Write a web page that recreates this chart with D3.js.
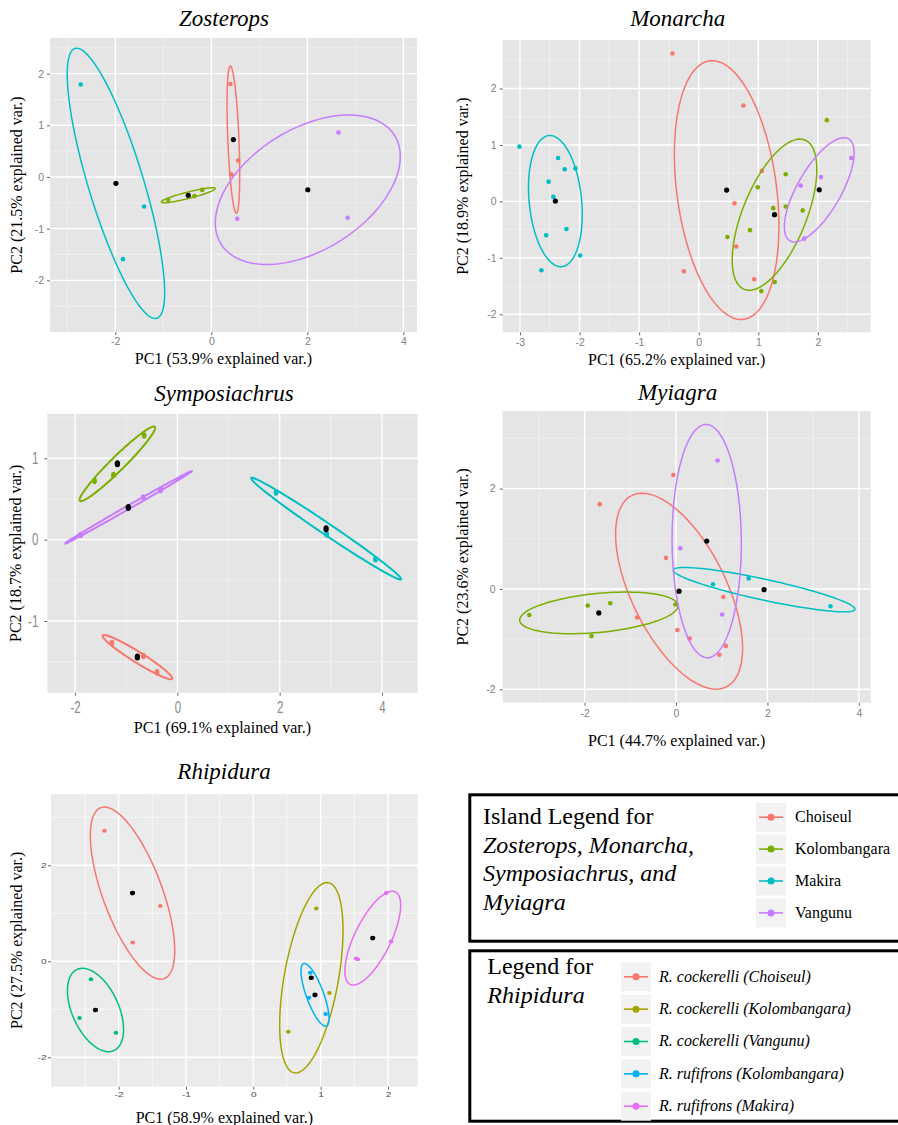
<!DOCTYPE html>
<html>
<head>
<meta charset="utf-8">
<script src="https://cdn.jsdelivr.net/npm/d3@7"></script>
<style>
  body { margin: 0; background: #fff; }
  svg { display: block; }
</style>
</head>
<body>
<div id="chart"></div>
<script>
// group names and colours
const islands = ["Choiseul", "Kolombangara", "Makira", "Vangunu"];
const islandColors = ["#F8766D", "#7CAE00", "#00BFC4", "#C77CFF"];
const rhipiduraGroups = [
  "R. cockerelli (Choiseul)", "R. cockerelli (Kolombangara)", "R. cockerelli (Vangunu)",
  "R. rufifrons (Kolombangara)", "R. rufifrons (Makira)"
];
const rhipiduraColors = ["#F8766D", "#A3A500", "#00BF7D", "#00B0F6", "#E76BF3"];

// PCA scores: [group, PC1, PC2]
const zosterops = [
  ["Choiseul", 0.40, 1.80], ["Choiseul", 0.56, 0.32], ["Choiseul", 0.42, 0.05],
  ["Kolombangara", -0.90, -0.44], ["Kolombangara", -0.35, -0.37], ["Kolombangara", -0.19, -0.25],
  ["Makira", -2.72, 1.79], ["Makira", -1.40, -0.57], ["Makira", -1.84, -1.59],
  ["Vangunu", 2.65, 0.86], ["Vangunu", 0.54, -0.81], ["Vangunu", 2.84, -0.79]
];
const monarcha = [
  ["Choiseul", -0.44, 2.62], ["Choiseul", 0.75, 1.70], ["Choiseul", 1.06, 0.54],
  ["Choiseul", 0.60, -0.035], ["Choiseul", 0.63, -0.80], ["Choiseul", -0.25, -1.24],
  ["Choiseul", 0.93, -1.38],
  ["Kolombangara", 2.15, 1.44], ["Kolombangara", 1.46, 0.48], ["Kolombangara", 0.99, 0.25],
  ["Kolombangara", 1.25, -0.12], ["Kolombangara", 1.46, -0.09], ["Kolombangara", 1.745, -0.16],
  ["Kolombangara", 0.86, -0.51], ["Kolombangara", 0.48, -0.63], ["Kolombangara", 1.275, -1.43],
  ["Kolombangara", 1.05, -1.59],
  ["Makira", -3.01, 0.97], ["Makira", -2.36, 0.77], ["Makira", -2.25, 0.57],
  ["Makira", -2.07, 0.585], ["Makira", -2.52, 0.35], ["Makira", -2.44, 0.08],
  ["Makira", -2.22, -0.49], ["Makira", -2.56, -0.60], ["Makira", -1.99, -0.96],
  ["Makira", -2.64, -1.22],
  ["Vangunu", 2.56, 0.77], ["Vangunu", 2.05, 0.43], ["Vangunu", 1.71, 0.28], ["Vangunu", 1.77, -0.66]
];
const symposiachrus = [
  ["Choiseul", -1.28, -1.27], ["Choiseul", -0.665, -1.43], ["Choiseul", -0.40, -1.63],
  ["Kolombangara", -0.65, 1.28], ["Kolombangara", -1.25, 0.795], ["Kolombangara", -1.62, 0.72],
  ["Makira", 1.93, 0.58], ["Makira", 2.92, 0.066], ["Makira", 3.875, -0.24],
  ["Vangunu", -1.89, 0.058], ["Vangunu", -0.665, 0.52], ["Vangunu", -0.325, 0.61]
];
const myiagra = [
  ["Choiseul", -0.06, 2.27], ["Choiseul", -1.67, 1.69], ["Choiseul", -0.22, 0.62],
  ["Choiseul", 1.035, -0.16], ["Choiseul", -0.85, -0.57], ["Choiseul", 0.03, -0.82],
  ["Choiseul", 0.30, -0.99], ["Choiseul", 1.09, -1.135], ["Choiseul", 0.95, -1.31],
  ["Kolombangara", -3.21, -0.52], ["Kolombangara", -1.93, -0.33], ["Kolombangara", -1.44, -0.285],
  ["Kolombangara", -1.85, -0.94], ["Kolombangara", -0.015, -0.31],
  ["Makira", 0.81, 0.093], ["Makira", 1.59, 0.21], ["Makira", 3.38, -0.345],
  ["Vangunu", 0.91, 2.56], ["Vangunu", 0.095, 0.81], ["Vangunu", 1.01, -0.51]
];
const rhipidura = [
  ["R. cockerelli (Choiseul)", -2.21, 2.72], ["R. cockerelli (Choiseul)", -1.38, 1.15],
  ["R. cockerelli (Choiseul)", -1.79, 0.39],
  ["R. cockerelli (Kolombangara)", 0.935, 1.10], ["R. cockerelli (Kolombangara)", 1.13, -0.66],
  ["R. cockerelli (Kolombangara)", 0.52, -1.47],
  ["R. cockerelli (Vangunu)", -2.41, -0.375], ["R. cockerelli (Vangunu)", -2.58, -1.18],
  ["R. cockerelli (Vangunu)", -2.04, -1.49],
  ["R. rufifrons (Kolombangara)", 0.846, -0.24], ["R. rufifrons (Kolombangara)", 0.827, -0.76],
  ["R. rufifrons (Kolombangara)", 1.075, -1.10],
  ["R. rufifrons (Makira)", 1.975, 1.42], ["R. rufifrons (Makira)", 2.045, 0.41],
  ["R. rufifrons (Makira)", 1.525, 0.06], ["R. rufifrons (Makira)", 1.55, 0.04]
];

const titles = ["Zosterops", "Monarcha", "Symposiachrus", "Myiagra", "Rhipidura"];
const xLabels = ["PC1 (53.9% explained var.)", "PC1 (65.2% explained var.)", "PC1 (69.1% explained var.)",
  "PC1 (44.7% explained var.)", "PC1 (58.9% explained var.)"];
const yLabels = ["PC2 (21.5% explained var.)", "PC2 (18.9% explained var.)", "PC2 (18.7% explained var.)",
  "PC2 (23.6% explained var.)", "PC2 (27.5% explained var.)"];
const xTicks = [[-2, 0, 2, 4], [-3, -2, -1, 0, 1, 2], [-2, 0, 2, 4], [-2, 0, 2, 4], [-2, -1, 0, 1, 2]];
const yTicks = [[-2, -1, 0, 1, 2], [-2, -1, 0, 1, 2], [-1, 0, 1], [-2, 0, 2], [-2, 0, 2]];
const xMinor = [[-3, -1, 1, 3], [-2.5, -1.5, -0.5, 0.5, 1.5, 2.5], [-1, 1, 3], [-3, -1, 1, 3], [-2.5, -1.5, -0.5, 0.5, 1.5]];
const yMinor = [[-2.5, -1.5, -0.5, 0.5, 1.5, 2.5], [-1.5, -0.5, 0.5, 1.5, 2.5], [-1.5, -0.5, 0.5, 1.5], [-1, 1, 3], [-1, 1, 3]];
const xDomains = [[-3.36, 4.285], [-3.29, 2.886], [-2.544, 4.70], [-3.792, 4.26], [-3.004, 2.441]];
const yDomains = [[-3.0, 2.69], [-2.32, 2.86], [-1.881, 1.544], [-2.267, 3.546], [-2.613, 3.485]];

const W = 898, H = 1125;
const serif = "'Liberation Serif', 'Times New Roman', serif";
const sans = "'Liberation Sans', Arial, sans-serif";

const svg = d3.select("#chart").append("svg")
  .attr("width", W).attr("height", H);
svg.append("rect").attr("width", W).attr("height", H).attr("fill", "#fff");

// layout of each panel (pixel box, text positions, tick styling)
const layout = [
  { data: zosterops, groups: islands, colors: islandColors, box: [50, 38, 417, 332],
    title: [224, 25.5], xlabY: 364, ylabX: 21.6, bg: "#E5E5E5", minor: "#F2F2F2",
    tick: { fs: 10.5, color: "#7F7F7F", pad: 3, sx: 1 }, rx: 2.3, ry: 2.3, ew: 1.5 },
  { data: monarcha, groups: islands, colors: islandColors, box: [502.7, 40, 870.7, 332.3],
    title: [677.7, 25.5], xlabY: 365, ylabX: 467.6, bg: "#E5E5E5", minor: "#F2F2F2",
    tick: { fs: 10.5, color: "#7F7F7F", pad: 3, sx: 1 }, rx: 2.3, ry: 2.3, ew: 1.5 },
  { data: symposiachrus, groups: islands, colors: islandColors, box: [47.3, 414, 417.7, 692.7],
    title: [224, 401], xlabY: 733, ylabX: 20.6, bg: "#E5E5E5", minor: "#F2F2F2",
    tick: { fs: 16, color: "#8A8A8A", pad: 6, sx: 0.72 }, rx: 2.4, ry: 3.2, ew: 2 },
  { data: myiagra, groups: islands, colors: islandColors, box: [502.7, 411, 870.7, 702.7],
    title: [677.7, 400], xlabY: 746, ylabX: 467.6, bg: "#E5E5E5", minor: "#F2F2F2",
    tick: { fs: 10.5, color: "#7F7F7F", pad: 4, sx: 1 }, rx: 2.3, ry: 2.3, ew: 1.5 },
  { data: rhipidura, groups: rhipiduraGroups, colors: rhipiduraColors, box: [51, 794, 417.7, 1086.7],
    title: [224, 779], xlabY: 1123, ylabX: 21.6, bg: "#EBEBEB", minor: "#FFFFFF",
    tick: { fs: 7.5, color: "#4D4D4D", pad: 1.5, sx: 1.35 }, rx: 2.3, ry: 2, ew: 1.5 }
];

// 68% normal ellipse as in ggbiplot
const ed = Math.sqrt(-2 * Math.log(1 - 0.68));
function ellipsePoints(pts) {
  const n = pts.length;
  const mx = d3.mean(pts, d => d[1]), my = d3.mean(pts, d => d[2]);
  let a = 0, b = 0, c = 0;
  pts.forEach(d => {
    const dx = d[1] - mx, dy = d[2] - my;
    a += dx * dx; b += dx * dy; c += dy * dy;
  });
  a /= n - 1; b /= n - 1; c /= n - 1;
  const r11 = Math.sqrt(a), r12 = b / r11, r22 = Math.sqrt(Math.max(c - r12 * r12, 0));
  return d3.range(0, 101).map(i => {
    const t = -Math.PI + 2 * Math.PI * i / 100;
    const co = Math.cos(t), si = Math.sin(t);
    return [mx + ed * co * r11, my + ed * (co * r12 + si * r22)];
  });
}

const tickFmt = d => String(d);

layout.forEach((p, i) => {
  const [x0, y0, x1, y1] = p.box;
  const x = d3.scaleLinear().domain(xDomains[i]).range([x0, x1]);
  const y = d3.scaleLinear().domain(yDomains[i]).range([y1, y0]);
  const g = svg.append("g");

  g.append("rect").attr("x", x0).attr("y", y0)
    .attr("width", x1 - x0).attr("height", y1 - y0).attr("fill", p.bg);

  // grid
  g.selectAll(".xmin").data(xMinor[i]).enter().append("line")
    .attr("x1", d => x(d)).attr("x2", d => x(d)).attr("y1", y0).attr("y2", y1)
    .attr("stroke", p.minor).attr("stroke-width", 0.7);
  g.selectAll(".ymin").data(yMinor[i]).enter().append("line")
    .attr("y1", d => y(d)).attr("y2", d => y(d)).attr("x1", x0).attr("x2", x1)
    .attr("stroke", p.minor).attr("stroke-width", 0.7);
  g.selectAll(".xmaj").data(xTicks[i]).enter().append("line")
    .attr("x1", d => x(d)).attr("x2", d => x(d)).attr("y1", y0).attr("y2", y1)
    .attr("stroke", "#fff").attr("stroke-width", 1.4);
  g.selectAll(".ymaj").data(yTicks[i]).enter().append("line")
    .attr("y1", d => y(d)).attr("y2", d => y(d)).attr("x1", x0).attr("x2", x1)
    .attr("stroke", "#fff").attr("stroke-width", 1.4);

  // axes
  const xa = g.append("g").attr("transform", `translate(0,${y1})`)
    .call(d3.axisBottom(x).tickValues(xTicks[i]).tickFormat(tickFmt)
      .tickSize(3).tickPadding(p.tick.pad));
  const ya = g.append("g").attr("transform", `translate(${x0},0)`)
    .call(d3.axisLeft(y).tickValues(yTicks[i]).tickFormat(tickFmt)
      .tickSize(3).tickPadding(p.tick.pad));
  [xa, ya].forEach(ax => {
    ax.select(".domain").remove();
    ax.selectAll("line").attr("stroke", "#666");
    ax.selectAll("text").attr("fill", p.tick.color)
      .style("font-family", sans).style("font-size", p.tick.fs + "px");
  });
  xa.selectAll("text").attr("transform", `scale(${p.tick.sx},1)`);
  ya.selectAll("text").attr("transform", `scale(${p.tick.sx},1)`)
    .attr("x", -(3 + p.tick.pad) / p.tick.sx);

  // clip plot area
  const clipId = "clip" + i;
  svg.append("clipPath").attr("id", clipId).append("rect")
    .attr("x", x0).attr("y", y0).attr("width", x1 - x0).attr("height", y1 - y0);
  const plot = g.append("g").attr("clip-path", `url(#${clipId})`);
  const color = d3.scaleOrdinal().domain(p.groups).range(p.colors);

  plot.selectAll(".pt").data(p.data).enter().append("ellipse")
    .attr("cx", d => x(d[1])).attr("cy", d => y(d[2]))
    .attr("rx", p.rx).attr("ry", p.ry).attr("fill", d => color(d[0]));

  const byGroup = d3.groups(p.data, d => d[0]);
  const line = d3.line().x(d => x(d[0])).y(d => y(d[1]));
  byGroup.forEach(([name, pts]) => {
    plot.append("path").attr("d", line(ellipsePoints(pts)))
      .attr("fill", "none").attr("stroke", color(name)).attr("stroke-width", p.ew);
  });

  // group centroids
  plot.selectAll(".cen").data(byGroup).enter().append("ellipse")
    .attr("cx", d => x(d3.mean(d[1], v => v[1])))
    .attr("cy", d => y(d3.mean(d[1], v => v[2])))
    .attr("rx", p.rx + 0.3).attr("ry", p.ry + 0.3).attr("fill", "#000");

  // titles and labels
  svg.append("text").attr("x", p.title[0]).attr("y", p.title[1])
    .attr("text-anchor", "middle").style("font-family", serif)
    .style("font-style", "italic").style("font-size", "23px").text(titles[i]);
  svg.append("text").attr("x", (x0 + x1) / 2 - 10).attr("y", p.xlabY)
    .attr("text-anchor", "middle").style("font-family", serif)
    .style("font-size", "16px").text(xLabels[i]);
  svg.append("text")
    .attr("transform", `translate(${p.ylabX},${(y0 + y1) / 2}) rotate(-90)`)
    .attr("text-anchor", "middle").style("font-family", serif)
    .style("font-size", "16px").text(yLabels[i]);
});

// legends
function legendBox(top, bottom) {
  svg.append("rect").attr("x", 469.8).attr("y", top + 1.5)
    .attr("width", 440).attr("height", bottom - top - 3)
    .attr("fill", "#fff").attr("stroke", "#000").attr("stroke-width", 3);
}
function legendKeys(names, colors, kx, ky, step, lx, italic) {
  names.forEach((name, i) => {
    const top = ky + i * step, cy = top + 14.5;
    svg.append("rect").attr("x", kx).attr("y", top).attr("width", 30).attr("height", 29)
      .attr("fill", "#F2F2F2");
    svg.append("line").attr("x1", kx + 3).attr("x2", kx + 27).attr("y1", cy).attr("y2", cy)
      .attr("stroke", colors[i]).attr("stroke-width", 1.6);
    svg.append("circle").attr("cx", kx + 15).attr("cy", cy).attr("r", 3.5).attr("fill", colors[i]);
    svg.append("text").attr("x", lx).attr("y", cy + 4.8)
      .style("font-family", serif).style("font-size", "16px")
      .style("font-style", italic ? "italic" : "normal").text(name);
  });
}

legendBox(793.3, 942.7);
const l1 = [["Island Legend for", false], ["Zosterops, Monarcha,", true],
  ["Symposiachrus, and", true], ["Myiagra", true]];
l1.forEach(([t, it], i) => {
  svg.append("text").attr("x", 483).attr("y", 824 + i * 28.7)
    .style("font-family", serif).style("font-size", "24px")
    .style("font-style", it ? "italic" : "normal").text(t);
});
legendKeys(islands, islandColors, 756, 802.7, 31.9, 795, false);

legendBox(949.3, 1122.7);
svg.append("text").attr("x", 487.3).attr("y", 974.3)
  .style("font-family", serif).style("font-size", "24px").text("Legend for");
svg.append("text").attr("x", 487.3).attr("y", 1002.7)
  .style("font-family", serif).style("font-size", "24px").style("font-style", "italic").text("Rhipidura");
legendKeys(rhipiduraGroups, rhipiduraColors, 621, 962.3, 32.35, 659, true);
</script>
</body>
</html>
